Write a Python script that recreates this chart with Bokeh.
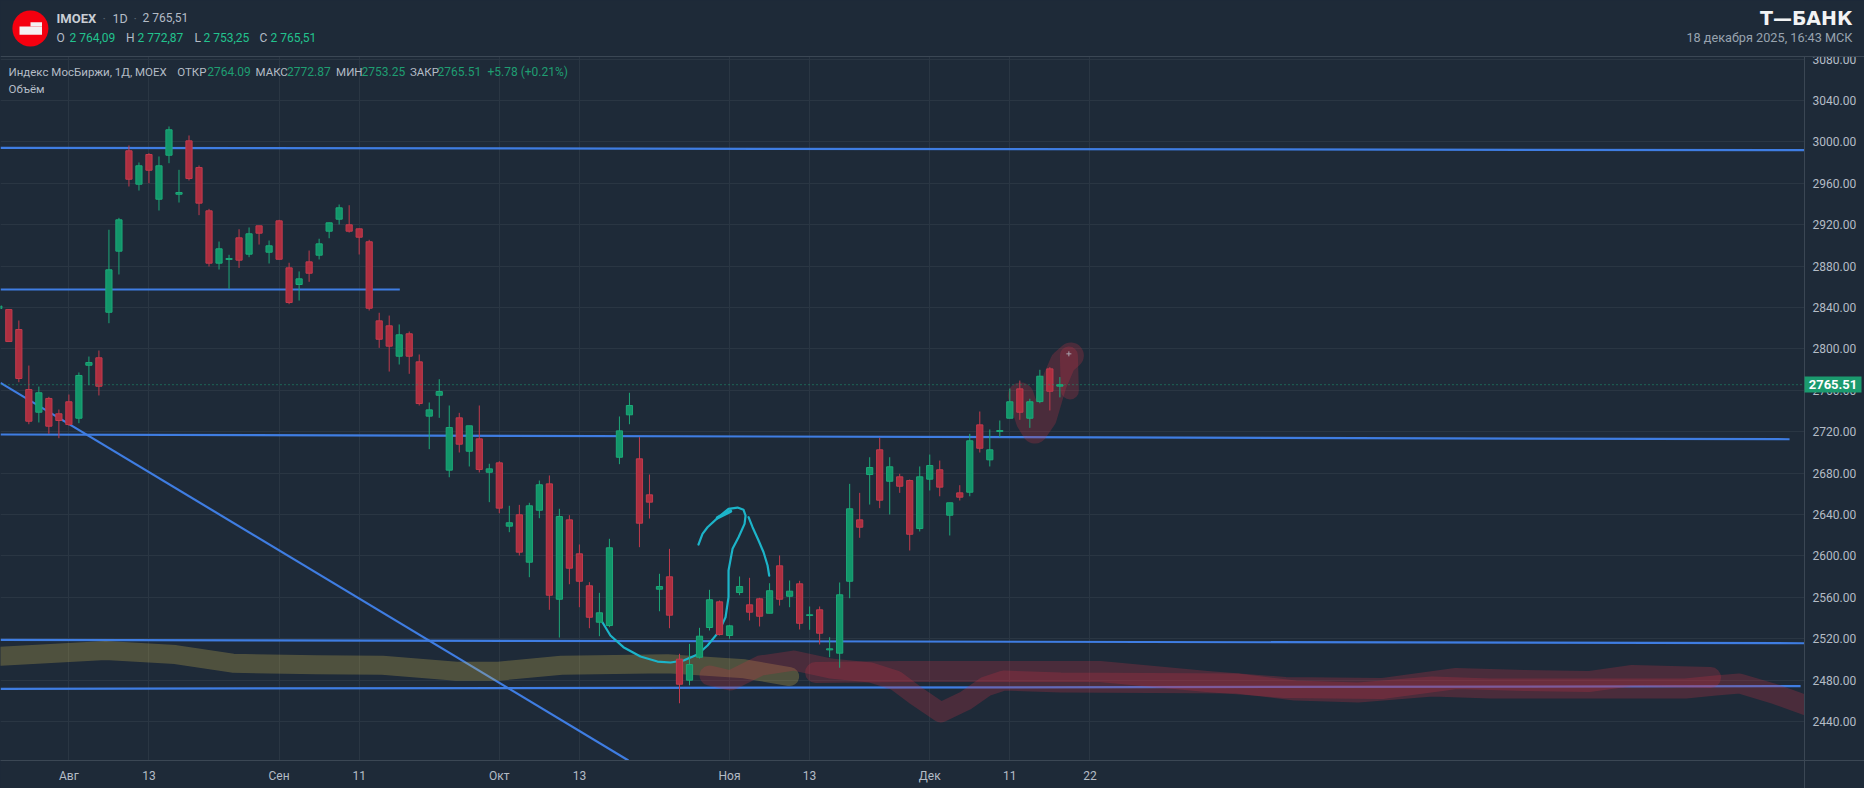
from bokeh.core.properties import value
from bokeh.embed import file_html
from bokeh.models import (ColumnDataSource, FixedTicker, NumeralTickFormatter,
                          Range1d, Span)
from bokeh.plotting import figure
from bokeh.resources import INLINE

# ---------- data ----------
opens = [2839.1,
 2838.1,2818.8,2760.8,2738.9,2752.2,2737.4,2749.0,2733.1,2784.3,2791.5,
 2835.5,2894.5,2991.5,2959.2,2987.9,2944.7,2987.2,2949.5,3001.1,2975.3,
 2933.5,2882.9,2886.5,2907.4,2891.6,2919.0,2893.5,2923.8,2878.4,2862.3,
 2884.2,2890.6,2913.8,2925.4,2920.0,2916.1,2903.6,2827.2,2822.4,2793.0,
 2814.7,2787.6,2735.1,2755.3,2682.9,2733.5,2701.2,2713.2,2680.9,2690.0,
 2628.8,2639.8,2594.0,2644.2,2669.7,2558.2,2634.9,2602.1,2571.2,2536.0,
 2532.8,2695.4,2736.4,2693.9,2659.1,2567.9,2579.9,2500.3,2480.0,2502.2,
 2530.9,2555.7,2523.2,2564.7,2552.8,2558.6,2544.7,2590.5,2561.1,2573.1,
 2542.5,2548.0,2509.3,2506.1,2575.6,2634.9,2678.7,2702.6,2672.2,2676.5,
 2672.9,2626.5,2674.2,2683.3,2639.4,2661.0,2661.6,2726.7,2692.9,2720.3,
 2733.1,2761.5,2733.1,2749.2,2780.8,2764.09]
highs = [2844.9,
 2838.1,2827.5,2784.0,2763.7,2753.8,2741.5,2756.0,2777.3,2792.7,2798.5,
 2915.2,2926.7,2996.6,2980.2,2989.2,2986.0,3015.0,2973.1,3006.3,2977.3,
 2935.4,2903.8,2891.0,2915.7,2917.4,2919.0,2904.8,2924.8,2883.3,2874.9,
 2895.1,2906.5,2922.2,2939.6,2938.9,2916.4,2905.5,2835.0,2832.3,2823.7,
 2816.9,2794.7,2748.3,2770.8,2745.4,2738.3,2725.8,2745.4,2689.1,2691.6,
 2648.5,2649.4,2651.4,2672.9,2677.8,2645.6,2639.4,2611.1,2574.7,2564.4,
 2616.6,2734.8,2757.7,2714.8,2678.7,2582.8,2606.9,2505.5,2515.1,2530.6,
 2567.3,2557.0,2533.5,2580.2,2578.9,2559.6,2573.7,2600.5,2576.3,2576.0,
 2551.2,2551.2,2521.5,2574.4,2669.7,2661.0,2695.4,2714.2,2695.4,2679.4,
 2673.9,2686.5,2698.0,2692.2,2651.4,2668.4,2718.0,2739.6,2722.2,2730.9,
 2761.8,2769.5,2751.9,2779.9,2782.4,2772.87]
lows = [2835.2,
 2807.2,2767.9,2727.3,2729.0,2718.0,2713.8,2725.8,2728.3,2765.0,2755.1,
 2824.9,2872.0,2957.0,2953.1,2960.2,2933.8,2979.5,2941.5,2962.8,2929.3,
 2879.7,2876.8,2858.1,2878.4,2888.7,2900.9,2882.6,2886.7,2843.3,2846.8,
 2864.9,2886.5,2907.0,2920.3,2912.5,2891.3,2837.2,2801.1,2778.2,2785.0,
 2776.0,2745.4,2703.2,2733.5,2676.1,2700.0,2686.5,2680.7,2652.0,2641.3,
 2623.0,2600.5,2579.5,2636.5,2548.0,2521.2,2572.7,2550.5,2530.2,2522.5,
 2531.2,2688.7,2727.3,2608.5,2636.2,2546.6,2530.2,2457.7,2475.1,2500.9,
 2528.0,2523.2,2520.0,2562.1,2537.7,2531.9,2544.7,2552.1,2550.5,2529.0,
 2528.7,2514.5,2502.2,2492.0,2559.2,2617.6,2649.7,2646.2,2640.1,2661.0,
 2605.3,2623.7,2663.3,2657.7,2619.8,2653.6,2657.7,2700.0,2686.5,2714.8,
 2733.1,2731.6,2723.8,2747.6,2740.6,2753.25]
closes = [2841.5,
 2807.2,2771.5,2730.2,2757.7,2725.4,2730.9,2727.0,2774.4,2786.9,2764.0,
 2876.5,2924.8,2964.0,2977.0,2972.7,2977.0,3011.8,2951.2,2964.7,2940.9,
 2882.9,2896.8,2887.4,2885.8,2911.3,2911.9,2899.7,2886.7,2844.9,2867.8,
 2873.2,2901.6,2921.9,2936.4,2913.8,2908.0,2839.4,2809.4,2802.7,2813.7,
 2793.0,2747.3,2741.2,2758.9,2724.1,2708.0,2725.8,2683.6,2684.2,2646.2,
 2632.1,2603.7,2648.5,2668.8,2562.1,2638.1,2588.2,2575.6,2540.8,2545.1,
 2607.9,2720.9,2745.4,2631.7,2652.0,2570.5,2542.8,2476.1,2495.1,2522.5,
 2557.7,2524.1,2532.5,2570.5,2545.7,2541.8,2566.4,2558.2,2566.0,2535.0,
 2543.2,2525.4,2510.3,2562.5,2645.6,2627.8,2685.5,2653.9,2686.2,2667.4,
 2621.0,2676.5,2687.4,2666.5,2651.4,2656.8,2711.3,2704.1,2702.6,2721.2,
 2749.0,2738.9,2749.0,2773.7,2759.2,2765.51]
bars = list(range(-1, 106))

last_price = 2765.51
y_ticks = [2440, 2480, 2520, 2560, 2600, 2640, 2680, 2720, 2760, 2800, 2840,
           2880, 2920, 2960, 3000, 3040, 3080]
x_tick_bars = [6, 14, 27, 35, 49, 57, 72, 80, 92, 100, 108]
x_tick_labels = ["Авг", "13", "Сен", "11", "Окт", "13", "Ноя", "13", "Дек", "11", "22"]

# drawn trend lines: (bar, price) pairs
line_top_bar, line_top_price = [-0.83, 179.4], [2994.4, 2992.1]
line_mid_bar, line_mid_price = [-0.83, 39.06], [2857.5, 2857.5]
line_c_bar, line_c_price = [-0.83, 177.9], [2717.4, 2712.8]
line_d_bar, line_d_price = [-0.83, 179.4], [2519.0, 2515.7]
line_e_bar, line_e_price = [-0.83, 179.0], [2471.7, 2474.2]
line_diag_bar, line_diag_price = [-0.83, 61.9], [2767.3, 2402.4]

# hand-drawn strokes
olive_bar = [-0.83, 9.66, 16.65, 22.35, 30.74, 37.33, 44.72, 48.92, 55.21, 65.8, 73.5, 78.0]
olive_price = [2503.1, 2508.7, 2504.8, 2496.4, 2494.8, 2494.4, 2488.7, 2488.7, 2494.4, 2495.8, 2491.0, 2483.5]
red1_bar = [70, 72.1, 75.1, 78.4, 82.1, 86.1, 88.6, 90.6, 93.1, 95.6, 97.6, 99.4, 105.1, 122.7,
            128.5, 134.8, 142.2, 148, 157.8, 167.5, 170.5, 172.9, 176.3, 181]
red1_price = [2484.5, 2479.7, 2494.2, 2499, 2491.3, 2487.4, 2479.7, 2465.2, 2448.8, 2460.4, 2473.9, 2479.7,
              2477.8, 2476.8, 2470, 2468.1, 2473.9, 2472, 2472, 2472, 2474.9, 2476.8, 2467.1, 2450.7]
red2_bar = [80.6, 89.1, 99.1, 109, 119.7, 127.5, 137.3, 144.6, 151.4, 157.8, 162.2, 170]
red2_price = [2487.4, 2488.4, 2488.4, 2488.4, 2478.7, 2472.9, 2472, 2481.6, 2479.7, 2478.7, 2484.5, 2482.6]
red3_bar = [101.1, 101.9, 102.5, 103.4, 104.4, 105.3, 106.1]
red3_price = [2755.1, 2730.9, 2721.2, 2733.8, 2766.6, 2786.9, 2793.7]
red4_bar = [105.9, 106.0]
red4_price = [2793.7, 2759.9]
cyan1_bar = [59.3, 60.1, 61.4, 63.1, 64.8, 66.1, 67.4, 68.8, 69.8, 70.9, 71.6, 71.9, 71.9, 72.3, 72.9,
             73.5, 73.6, 73.4, 72.8, 71.9, 70.9, 69.8, 69.3, 68.9]
cyan1_price = [2536, 2523.2, 2511.9, 2502.9, 2498, 2497.1, 2499, 2504.8, 2513.5, 2526.4, 2540.8, 2560.2,
               2586, 2606.9, 2618.1, 2631, 2639.1, 2644.6, 2646.8, 2645.6, 2637.5, 2627.8, 2621.4, 2611.1]
cyan2_bar = [73.9, 74.3, 74.9, 75.4, 75.8, 75.96]
cyan2_price = [2637.5, 2627.8, 2614.9, 2603.6, 2590.8, 2581.1]
cyan3_bar = [70.8, 72.1]
cyan3_price = [2636.9, 2643.3]

# ---------- styles ----------
BG = "#1e2a38"
GRID = "#2a3643"
EDGE = "#3b4754"
BLUE = "#3f7de2"
CYAN = "#1cb4c9"
GREEN, GREEN_E = "#12966a", "#1da878"
RED, RED_E = "#ad2f40", "#c13b4d"
TXT = "#b4bcc6"
FONT = "Roboto"

p = figure(width=1864, height=788, output_backend="svg", toolbar_location=None,
           x_range=Range1d(-0.832, 179.39), y_range=Range1d(2402.4, 3082.6),
           y_axis_location="right", min_border_left=0, min_border_right=60,
           min_border_top=56, min_border_bottom=28,
           background_fill_color=BG, border_fill_color=BG, outline_line_color=None,
           tools="")

p.xaxis.ticker = FixedTicker(ticks=x_tick_bars)
p.xaxis.major_label_overrides = dict(zip(x_tick_bars, x_tick_labels))
p.yaxis.ticker = FixedTicker(ticks=y_ticks)
p.yaxis.formatter = NumeralTickFormatter(format="0.00")
for ax in (p.xaxis, p.yaxis):
    ax.major_tick_line_color = None
    ax.minor_tick_line_color = None
    ax.major_tick_in = 0
    ax.major_tick_out = 0
    ax.minor_tick_in = 0
    ax.minor_tick_out = 0
    ax.axis_line_color = EDGE
    ax.major_label_text_color = TXT
    ax.major_label_text_font = FONT
    ax.major_label_text_font_size = "12px"
    ax.major_label_standoff = 8
p.xgrid.ticker = FixedTicker(ticks=x_tick_bars)
p.ygrid.ticker = FixedTicker(ticks=y_ticks)
p.xgrid.grid_line_color = GRID
p.ygrid.grid_line_color = GRID

# trend lines, under the strokes and the candles
for xs, ys in [(line_top_bar, line_top_price), (line_mid_bar, line_mid_price),
               (line_c_bar, line_c_price), (line_d_bar, line_d_price),
               (line_e_bar, line_e_price), (line_diag_bar, line_diag_price)]:
    p.line(xs, ys, line_color=BLUE, line_width=2.2)

p.add_layout(Span(location=last_price, dimension="width", line_color="#1f9e72",
                  line_dash="1 3", line_width=1))

# brush strokes
p.line(olive_bar, olive_price, line_color="#d7be50", line_alpha=0.27, line_width=19,
       line_cap="round", line_join="round")
for xs, ys, w in [(red1_bar, red1_price, 20), (red2_bar, red2_price, 21),
                  (red3_bar, red3_price, 26), (red4_bar, red4_price, 18)]:
    p.line(xs, ys, line_color="#c83246", line_alpha=0.26, line_width=w,
           line_cap="round", line_join="round")
p.line(cyan1_bar, cyan1_price, line_color=CYAN, line_width=2.2, line_join="round", line_cap="round")
p.line(cyan2_bar, cyan2_price, line_color=CYAN, line_width=2.2, line_join="round", line_cap="round")
p.line(cyan3_bar, cyan3_price, line_color=CYAN, line_width=3.5, line_cap="round")
p.scatter([105.9], [2795.3], marker="cross", size=5, line_color="#a9a3ad", line_width=1)

# candles
src = ColumnDataSource(dict(
    bar=bars, o=opens, h=highs, l=lows, c=closes,
    fill=[GREEN if c >= o else RED for o, c in zip(opens, closes)],
    edge=[GREEN_E if c >= o else RED_E for o, c in zip(opens, closes)],
))
p.segment("bar", "h", "bar", "l", source=src, line_color="edge", line_width=1)
p.vbar("bar", width=0.62, bottom="o", top="c", source=src, fill_color="fill",
       line_color="edge", line_width=1)

# ---------- header and price tag: a transparent sheet laid over the chart ----------
ov = figure(width=1864, height=788, output_backend="svg", toolbar_location=None,
            x_range=Range1d(0, 1864), y_range=Range1d(788, 0),
            x_axis_location=None, y_axis_location=None, min_border=0, tools="",
            background_fill_color=None, border_fill_color=None, outline_line_color=None,
            styles={"position": "absolute", "left": "0", "top": "0"})
ov.grid.visible = False


def rect(l, r, t, b, color):
    ov.quad(left=[l], right=[r], top=[t], bottom=[b], fill_color=color, line_color=None)


def label(t, x, y, color, size=12, style="normal", align="left", font=FONT):
    ov.text([x], [y], text=[t], text_color=color, text_font=value(font),
            text_font_size=f"{size}px", text_font_style=style, text_align=align,
            text_baseline="middle")


rect(1804, 1864, 0, 56, BG)
rect(0, 1864, 55.5, 56.5, EDGE)
rect(1804, 1864, 759.5, 760.5, EDGE)
rect(1803.5, 1804.5, 56, 788, EDGE)

rect(1804, 1861, 376, 392, "#1b9a6e")
label("2765.51", 1832.5, 384, "#ffffff", 13, "bold", "center")

ov.ellipse([29.9], [28], width=36, height=36, fill_color="#f5000f", line_color=None)
rect(19, 41.5, 26, 34.3, "#f4f2f2")
rect(30, 41.5, 21.7, 26, "#f4f2f2")

GR = "#22c38e"
GD = "#1f9e72"
label("IMOEX", 56, 17.5, "#c9ced5", 13, "bold")
label("·", 102, 17.5, "#5a6470", 13)
label("1D", 112, 17.5, TXT, 12.5)
label("·", 133, 17.5, "#5a6470", 13)
label("2 765,51", 142, 17.5, TXT, 12)
for t_, x, c in [("O", 56, TXT), ("2 764,09", 69, GR), ("H", 125.5, TXT), ("2 772,87", 137, GR),
                 ("L", 194, TXT), ("2 753,25", 203, GR), ("C", 259, TXT), ("2 765,51", 270, GR)]:
    label(t_, x, 37, c, 12)
label("Т—БАНК", 1852, 17, "#f2f3f4", 19, "bold", "right", "DejaVu Sans")
label("18 декабря 2025, 16:43 МСК", 1852, 37, "#98a3af", 12.7, "normal", "right")
for t_, x, c, s in [("Индекс МосБиржи, 1Д, MOEX", 8, TXT, 11.5), ("ОТКР", 176.7, TXT, 11.5), ("2764.09", 206.7, GD, 12),
                    ("МАКС", 255, TXT, 11.5), ("2772.87", 286.5, GD, 12), ("МИН", 335.6, TXT, 11.5), ("2753.25", 361, GD, 12),
                    ("ЗАКР", 409.5, TXT, 11.5), ("2765.51", 437, GD, 12), ("+5.78 (+0.21%)", 487, GD, 12)]:
    label(t_, x, 71, c, s)
label("Объём", 8, 88, TXT, 11.5)

page = """{% block preamble %}<style>html,body{margin:0;background:#1e2a38;overflow:hidden}</style>{% endblock %}"""
open("out.html", "w").write(file_html((p, ov), INLINE, template=page))
